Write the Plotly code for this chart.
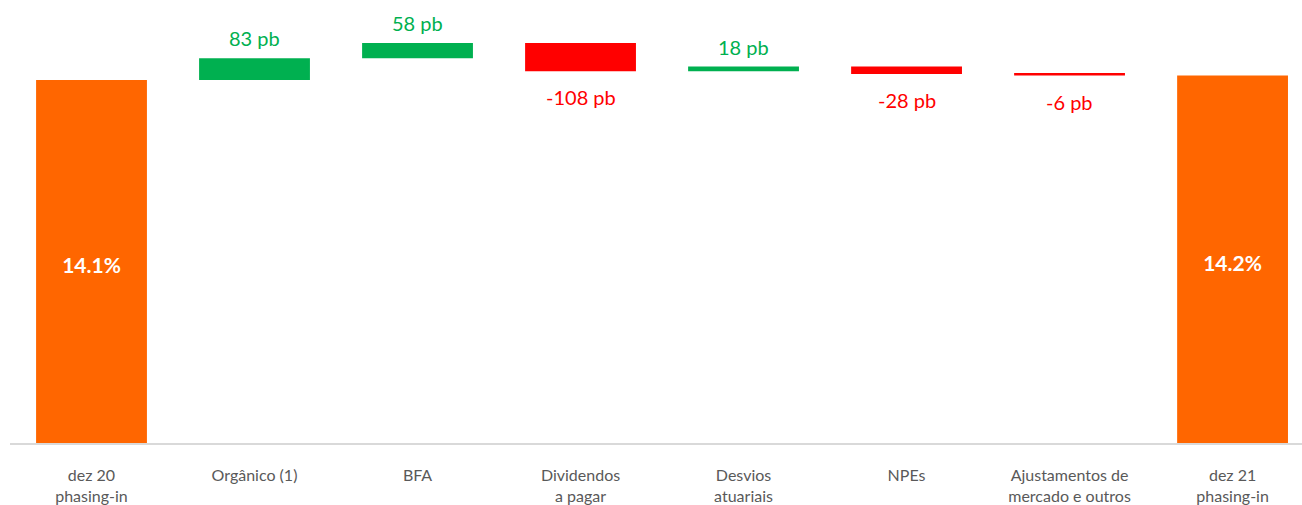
import plotly.graph_objects as go

# Capital ratio bridge, dez 20 -> dez 21 (phasing-in)
categories = [
    "dez 20<br>phasing-in",
    "Orgânico (1)",
    "BFA",
    "Dividendos<br>a pagar",
    "Desvios<br>atuariais",
    "NPEs",
    "Ajustamentos de<br>mercado e outros",
    "dez 21<br>phasing-in",
]
start_ratio = 14.06            # %
deltas_pb = [83, 58, -108, 18, -28, -6]   # basis points

ORANGE = "#FF6600"
GREEN = "#00B050"
RED = "#FF0000"
GREY_TXT = "#595959"
FONT = "Lato"

deltas_pct = [d / 100 for d in deltas_pb]
end_ratio = start_ratio + sum(deltas_pct)

y_vals = [start_ratio] + deltas_pct + [0]
measures = ["absolute"] + ["relative"] * len(deltas_pct) + ["total"]
bar_text = [f"{start_ratio:.1f}%"] + [""] * len(deltas_pct) + [f"{end_ratio:.1f}%"]

fig = go.Figure(
    go.Waterfall(
        x=categories,
        y=y_vals,
        measure=measures,
        text=bar_text,
        textposition="inside",
        insidetextanchor="middle",
        textfont=dict(color="white", size=21, family=FONT),
        texttemplate="<b>%{text}</b>",
        increasing=dict(marker=dict(color=GREEN)),
        decreasing=dict(marker=dict(color=RED)),
        totals=dict(marker=dict(color=ORANGE)),
        connector=dict(visible=False),
        width=0.68,
        hoverinfo="skip",
    )
)

# basis-point labels above gains, below losses
level = start_ratio
for cat, d_pb, d in zip(categories[1:-1], deltas_pb, deltas_pct):
    top = max(level, level + d)
    bottom = min(level, level + d)
    if d_pb >= 0:
        fig.add_annotation(x=cat, y=top, text=f"{d_pb} pb", showarrow=False,
                           yanchor="middle", yshift=20,
                           font=dict(color=GREEN, size=20, family=FONT))
    else:
        fig.add_annotation(x=cat, y=bottom, text=f"{d_pb} pb", showarrow=False,
                           yanchor="middle", yshift=-26,
                           font=dict(color=RED, size=20, family=FONT))
    level += d

fig.update_layout(
    width=1302,
    height=505,
    margin=dict(l=10, r=0, t=0, b=62),
    paper_bgcolor="white",
    plot_bgcolor="white",
    showlegend=False,
    font=dict(family=FONT, color=GREY_TXT),
    xaxis=dict(
        range=[-0.5, 7.426],
        showline=True,
        linecolor="#D9D9D9",
        linewidth=2,
        showgrid=False,
        ticks="",
        ticklabelstandoff=17,
        tickfont=dict(size=16, color=GREY_TXT, family=FONT),
        fixedrange=True,
    ),
    yaxis=dict(
        range=[0.26, 17.10],
        visible=False,
        showgrid=False,
        zeroline=False,
        fixedrange=True,
    ),
)

fig.write_html("out.html")
